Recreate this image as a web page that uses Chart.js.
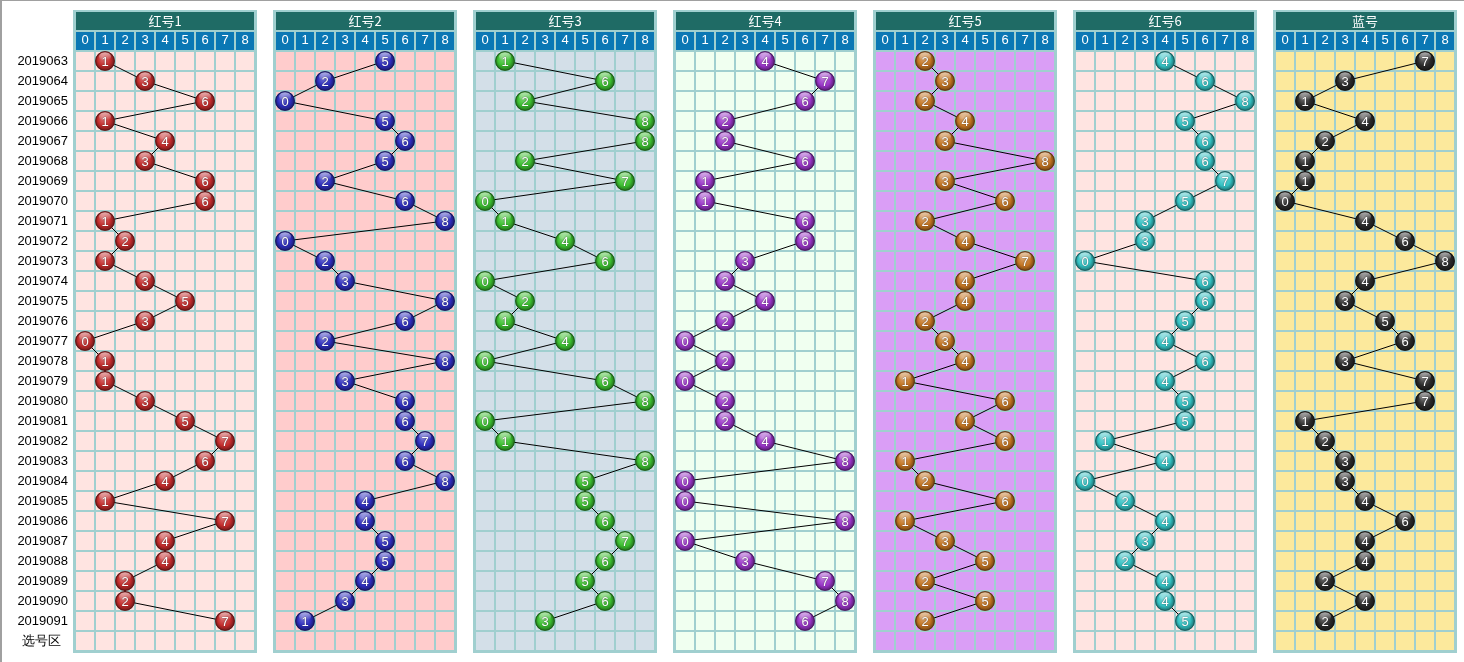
<!DOCTYPE html>
<html>
<head>
<meta charset="utf-8">
<script src="https://cdn.jsdelivr.net/npm/chart.js@4/dist/chart.umd.min.js"></script>
<style>
html, body { margin: 0; padding: 0; background: #fff; }
#wrap { position: relative; width: 1464px; height: 662px; overflow: hidden; }
#wrap .edge-top { position: absolute; left: 0; top: 0; width: 1464px; height: 1px; background: #a0a0a0; }
#wrap .edge-left { position: absolute; left: 0; top: 0; width: 2px; height: 662px; background: #a0a0a0; }
.panel { position: absolute; top: 0; }
</style>
</head>
<body>
<div id="wrap"><div class="edge-top"></div><div class="edge-left"></div></div>
<script>
// row labels (periods) and column digits
const periods = ['2019063','2019064','2019065','2019066','2019067','2019068','2019069','2019070','2019071','2019072',
  '2019073','2019074','2019075','2019076','2019077','2019078','2019079','2019080','2019081','2019082',
  '2019083','2019084','2019085','2019086','2019087','2019088','2019089','2019090','2019091'];
const pickRow = '选号区';
const colNums = [0, 1, 2, 3, 4, 5, 6, 7, 8];
const titles = ['红号1', '红号2', '红号3', '红号4', '红号5', '红号6', '蓝号'];

// drawn digit per period, one list per position
const red1 = [1,3,6,1,4,3,6,6,1,2,1,3,5,3,0,1,1,3,5,7,6,4,1,7,4,4,2,2,7];
const red2 = [5,2,0,5,6,5,2,6,8,0,2,3,8,6,2,8,3,6,6,7,6,8,4,4,5,5,4,3,1];
const red3 = [1,6,2,8,8,2,7,0,1,4,6,0,2,1,4,0,6,8,0,1,8,5,5,6,7,6,5,6,3];
const red4 = [4,7,6,2,2,6,1,1,6,6,3,2,4,2,0,2,0,2,2,4,8,0,0,8,0,3,7,8,6];
const red5 = [2,3,2,4,3,8,3,6,2,4,7,4,4,2,3,4,1,6,4,6,1,2,6,1,3,5,2,5,2];
const red6 = [4,6,8,5,6,6,7,5,3,3,0,6,6,5,4,6,4,5,5,1,4,0,2,4,3,2,4,4,5];
const blue = [7,3,1,4,2,1,1,0,4,6,8,4,3,5,6,3,7,7,1,2,3,3,4,6,4,4,2,4,2];

const series = [red1, red2, red3, red4, red5, red6, blue];
const panelBg = ['#ffe4e1', '#ffcccc', '#d3dfe8', '#f0fff0', '#da9ef6', '#ffe4e1', '#fce99c'];
const ballColors = ['#c42c2c', '#2e2ebf', '#3cc030', '#9a35c8', '#c47522', '#33c2c4', '#2a2a2a'];
const gridColor = '#a0cfcf';
const headColor = '#1f6b65';
const digitColor = '#0a77b4';

function mix(hex, t) {
  // t > 0 lighten toward white, t < 0 darken toward black
  const n = parseInt(hex.slice(1), 16);
  let r = n >> 16, g = (n >> 8) & 255, b = n & 255;
  const target = t > 0 ? 255 : 0, k = Math.abs(t);
  r = Math.round(r + (target - r) * k);
  g = Math.round(g + (target - g) * k);
  b = Math.round(b + (target - b) * k);
  return `rgb(${r},${g},${b})`;
}

function makeBall(color) {
  const c = document.createElement('canvas');
  c.width = c.height = 22;
  const g = c.getContext('2d');
  const cx = 11, cy = 11, r = 9.8;
  const grad = g.createRadialGradient(cx - 2, cy - 3, 1, cx, cy, r);
  grad.addColorStop(0, mix(color, 0.3));
  grad.addColorStop(0.6, color);
  grad.addColorStop(1, mix(color, -0.45));
  g.beginPath(); g.arc(cx, cy, r, 0, Math.PI * 2);
  g.fillStyle = grad; g.fill();
  const hg = g.createLinearGradient(0, cy - r, 0, cy - 1);
  hg.addColorStop(0, 'rgba(255,255,255,0.75)');
  hg.addColorStop(1, 'rgba(255,255,255,0)');
  g.beginPath(); g.ellipse(cx, cy - r * 0.45, r * 0.62, r * 0.45, 0, 0, Math.PI * 2);
  g.fillStyle = hg; g.fill();
  g.beginPath(); g.arc(cx, cy, r - 0.4, 0, Math.PI * 2);
  g.lineWidth = 0.8; g.strokeStyle = mix(color, -0.55); g.stroke();
  return c;
}

// header band, digit cells and panel background behind the grid
const framePlugin = {
  id: 'frame',
  beforeDraw(chart, args, opts) {
    const { ctx, chartArea: a } = chart;
    const xs = chart.scales.x;
    ctx.save();
    ctx.fillStyle = gridColor;
    ctx.fillRect(a.left - 2, 10, a.right - a.left + 4, a.bottom + 2 - 10);
    ctx.fillStyle = headColor;
    ctx.fillRect(a.left + 1, 12, a.right - a.left - 2, 18);
    ctx.fillStyle = digitColor;
    colNums.forEach(c => {
      const px = xs.getPixelForValue(c);
      ctx.fillRect(px - 9, 32, 18, 18);
    });
    ctx.fillStyle = opts.bg;
    ctx.fillRect(a.left, a.top, a.right - a.left, a.bottom - a.top);
    ctx.restore();
  }
};

// digit printed on each ball
const ballTextPlugin = {
  id: 'ballText',
  afterDatasetsDraw(chart, args, opts) {
    const { ctx } = chart;
    const meta = chart.getDatasetMeta(0);
    ctx.save();
    ctx.font = '13px "Liberation Sans", Arial, sans-serif';
    ctx.textAlign = 'center';
    ctx.textBaseline = 'middle';
    ctx.fillStyle = '#fff';
    ctx.shadowColor = 'rgba(0,0,0,0.7)';
    ctx.shadowBlur = 1.5;
    meta.data.forEach((el, i) => {
      ctx.fillText(String(opts.values[i]), el.x, el.y + 1);
    });
    ctx.restore();
  }
};

const wrap = document.getElementById('wrap');

series.forEach((values, p) => {
  const first = p === 0;
  const left = first ? 0 : 75 + 200 * p - 3;
  const width = first ? 258 : 186;
  const holder = document.createElement('div');
  holder.className = 'panel';
  holder.style.left = left + 'px';
  holder.style.width = width + 'px';
  holder.style.height = '662px';
  const canvas = document.createElement('canvas');
  canvas.width = width;
  canvas.height = 662;
  holder.appendChild(canvas);
  wrap.appendChild(holder);

  const ball = makeBall(ballColors[p]);

  new Chart(canvas.getContext('2d'), {
    type: 'scatter',
    data: {
      datasets: [{
        data: values.map((v, i) => ({ x: v, y: periods[i] })),
        showLine: true,
        borderColor: '#000',
        borderWidth: 1,
        pointStyle: ball,
        pointRadius: 10,
        pointHoverRadius: 10
      }]
    },
    options: {
      responsive: false,
      animation: false,
      devicePixelRatio: 1,
      layout: { autoPadding: false, padding: { top: 12, bottom: 11, left: first ? 0 : 3, right: 3 } },
      scales: {
        x: {
          type: 'linear',
          position: 'top',
          min: -0.5,
          max: 8.5,
          afterBuildTicks: s => { s.ticks = colNums.map(v => ({ value: v })); },
          afterFit: s => { s.height = 20; s.paddingLeft = 0; s.paddingRight = 0; },
          grid: { offset: true, color: gridColor, lineWidth: 2, drawTicks: false },
          border: { display: false },
          ticks: {
            color: '#fff',
            padding: 3,
            autoSkip: false,
            maxRotation: 0,
            font: { family: '"Liberation Sans", Arial, sans-serif', size: 13 }
          }
        },
        y: {
          type: 'category',
          labels: [...periods, pickRow],
          offset: true,
          afterFit: s => { s.width = first ? 75 : 0; s.paddingTop = 0; s.paddingBottom = 0; },
          grid: { offset: true, color: gridColor, lineWidth: 2, drawTicks: false },
          border: { display: false },
          ticks: {
            display: first,
            color: '#000',
            padding: 7,
            autoSkip: false,
            font: { family: '"Liberation Sans", Arial, sans-serif', size: 13 },
            callback: function (v) {
              const s = this.getLabelForValue(v);
              return s === pickRow ? s + '  ' : s;
            }
          }
        }
      },
      plugins: {
        legend: { display: false },
        tooltip: { enabled: false },
        title: {
          display: true,
          text: titles[p],
          fullSize: false,
          color: '#fff',
          font: { family: '"Noto Sans CJK SC", sans-serif', size: 13, weight: 'normal', lineHeight: 1.2 },
          padding: { top: 1, bottom: 2.4 }
        },
        frame: { bg: panelBg[p] },
        ballText: { values: values }
      }
    },
    plugins: [framePlugin, ballTextPlugin]
  });
});
</script>
</body>
</html>
